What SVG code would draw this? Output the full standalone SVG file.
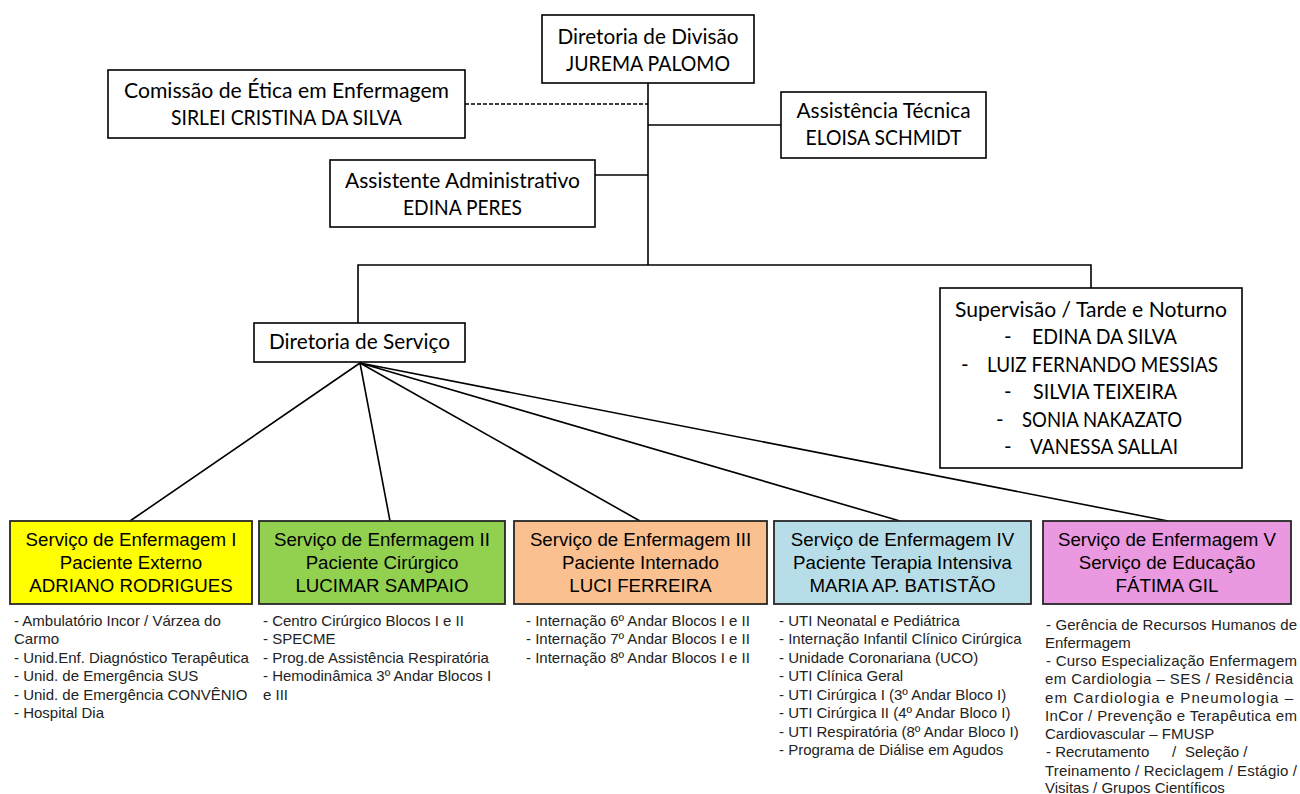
<svg xmlns="http://www.w3.org/2000/svg" width="1300" height="794" viewBox="0 0 1300 794">
<style>
.bx{fill:#fff;stroke:#000;stroke-width:1.6}
.sv{stroke:#262626;stroke-width:1.8}
.t{font-family:Lato,"Liberation Sans",sans-serif;font-size:20.5px;fill:#000;text-anchor:middle}
.ts{font-family:Lato,"Liberation Sans",sans-serif;font-size:20.5px;fill:#000}
.s{font-family:"Liberation Sans",Arial,sans-serif;font-size:18.7px;fill:#000;text-anchor:middle}
.l{font-family:"Liberation Sans",Arial,sans-serif;font-size:15px;fill:#222}
.c{fill:none;stroke:#000;stroke-width:1.6}
</style>
<rect width="1300" height="794" fill="#fff"/>
<g id="connectors">
<path class="c" d="M465,104 H648" stroke-dasharray="4,2"/>
<path class="c" d="M648,83 V265"/>
<path class="c" d="M648,125 H781"/>
<path class="c" d="M595,175 H648"/>
<path class="c" d="M358,323 V265 H1091 V288"/>
<path class="c" d="M360,363 L130,521 M360,363 L390,521 M360,363 L640,521 M360,363 L900,521 M360,363 L1168,521"/>
</g>
<g id="diretoria-divisao">
<rect class="bx" x="542" y="15" width="212" height="68"/>
<text class="t" x="648" y="44" textLength="181" lengthAdjust="spacingAndGlyphs">Diretoria de Divisão</text>
<text class="t" x="648" y="71" textLength="164" lengthAdjust="spacingAndGlyphs">JUREMA PALOMO</text>
</g>
<g id="comissao-etica">
<rect class="bx" x="108" y="70" width="357" height="68"/>
<text class="t" x="286.5" y="98" textLength="325" lengthAdjust="spacingAndGlyphs">Comissão de Ética em Enfermagem</text>
<text class="t" x="286.5" y="125" textLength="231" lengthAdjust="spacingAndGlyphs">SIRLEI CRISTINA DA SILVA</text>
</g>
<g id="assistencia-tecnica">
<rect class="bx" x="781" y="92" width="205" height="66"/>
<text class="t" x="883.5" y="118" textLength="174" lengthAdjust="spacingAndGlyphs">Assistência Técnica</text>
<text class="t" x="883.5" y="145" textLength="156" lengthAdjust="spacingAndGlyphs">ELOISA SCHMIDT</text>
</g>
<g id="assistente-administrativo">
<rect class="bx" x="330" y="160" width="265" height="67"/>
<text class="t" x="462.5" y="188" textLength="235" lengthAdjust="spacingAndGlyphs">Assistente Administrativo</text>
<text class="t" x="462.5" y="215" textLength="119" lengthAdjust="spacingAndGlyphs">EDINA PERES</text>
</g>
<g id="diretoria-servico">
<rect class="bx" x="254" y="323" width="211" height="39"/>
<text class="t" x="359.5" y="349" textLength="181" lengthAdjust="spacingAndGlyphs">Diretoria de Serviço</text>
</g>
<g id="supervisao">
<rect class="bx" x="940" y="288" width="302" height="180"/>
<text class="t" x="1091" y="317" textLength="272" lengthAdjust="spacingAndGlyphs">Supervisão / Tarde e Noturno</text>
<text class="ts" x="1004" y="344">-</text><text class="ts" x="1032" y="344" textLength="145" lengthAdjust="spacingAndGlyphs">EDINA DA SILVA</text>
<text class="ts" x="961" y="372">-</text><text class="ts" x="987" y="372" textLength="231" lengthAdjust="spacingAndGlyphs">LUIZ FERNANDO MESSIAS</text>
<text class="ts" x="1004" y="399">-</text><text class="ts" x="1033" y="399" textLength="144" lengthAdjust="spacingAndGlyphs">SILVIA TEIXEIRA</text>
<text class="ts" x="996" y="427">-</text><text class="ts" x="1022" y="427" textLength="160" lengthAdjust="spacingAndGlyphs">SONIA NAKAZATO</text>
<text class="ts" x="1004" y="454">-</text><text class="ts" x="1030" y="454" textLength="148" lengthAdjust="spacingAndGlyphs">VANESSA SALLAI</text>
</g>
<g id="servico-1">
<rect class="sv" x="10" y="521" width="242" height="83" fill="#FFFF00"/>
<text class="s" x="131" y="546">Serviço de Enfermagem I</text>
<text class="s" x="131" y="569">Paciente Externo</text>
<text class="s" x="131" y="592">ADRIANO  RODRIGUES</text>
<text class="l" x="14" y="626">- Ambulatório  Incor / Várzea do</text>
<text class="l" x="14" y="644">Carmo</text>
<text class="l" x="14" y="663">- Unid.Enf. Diagnóstico Terapêutica</text>
<text class="l" x="14" y="681">- Unid. de Emergência SUS</text>
<text class="l" x="14" y="700">- Unid. de Emergência CONVÊNIO</text>
<text class="l" x="14" y="718">- Hospital  Dia</text>
</g>
<g id="servico-2">
<rect class="sv" x="259" y="521" width="246" height="83" fill="#92D050"/>
<text class="s" x="382" y="546">Serviço de Enfermagem II</text>
<text class="s" x="382" y="569">Paciente Cirúrgico</text>
<text class="s" x="382" y="592">LUCIMAR SAMPAIO</text>
<text class="l" x="263" y="626">- Centro Cirúrgico Blocos I e II</text>
<text class="l" x="263" y="644">- SPECME</text>
<text class="l" x="263" y="663">- Prog.de Assistência Respiratória</text>
<text class="l" x="263" y="681">- Hemodinâmica  3º Andar Blocos I</text>
<text class="l" x="263" y="700">e III</text>
</g>
<g id="servico-3">
<rect class="sv" x="514" y="521" width="253" height="83" fill="#FAC090"/>
<text class="s" x="640.5" y="546">Serviço de Enfermagem III</text>
<text class="s" x="640.5" y="569">Paciente Internado</text>
<text class="s" x="640.5" y="592">LUCI FERREIRA</text>
<text class="l" x="526" y="626">- Internação 6º Andar Blocos I e II</text>
<text class="l" x="526" y="644">- Internação 7º Andar Blocos I e II</text>
<text class="l" x="526" y="663">- Internação 8º Andar Blocos I e II</text>
</g>
<g id="servico-4">
<rect class="sv" x="774" y="521" width="257" height="83" fill="#B7DDE8"/>
<text class="s" x="902.5" y="546">Serviço de Enfermagem IV</text>
<text class="s" x="902.5" y="569">Paciente Terapia Intensiva</text>
<text class="s" x="902.5" y="592">MARIA AP. BATISTÃO</text>
<text class="l" x="779" y="626">- UTI  Neonatal  e Pediátrica</text>
<text class="l" x="779" y="644">- Internação Infantil Clínico Cirúrgica</text>
<text class="l" x="779" y="663">- Unidade  Coronariana  (UCO)</text>
<text class="l" x="779" y="681">- UTI  Clínica Geral</text>
<text class="l" x="779" y="700">- UTI  Cirúrgica I  (3º Andar Bloco I)</text>
<text class="l" x="779" y="718">- UTI  Cirúrgica II (4º Andar Bloco I)</text>
<text class="l" x="779" y="737">- UTI  Respiratória  (8º Andar Bloco I)</text>
<text class="l" x="779" y="755">- Programa de Diálise em Agudos</text>
</g>
<g id="servico-5">
<rect class="sv" x="1043" y="521" width="248" height="83" fill="#EA98DF"/>
<text class="s" x="1167" y="546">Serviço de Enfermagem V</text>
<text class="s" x="1167" y="569">Serviço de Educação</text>
<text class="s" x="1167" y="592">FÁTIMA GIL</text>
<text class="l" x="1046" y="630" textLength="251" lengthAdjust="spacing">- Gerência de Recursos Humanos de</text>
<text class="l" x="1045" y="648">Enfermagem</text>
<text class="l" x="1046" y="666" textLength="251" lengthAdjust="spacing">- Curso Especialização Enfermagem</text>
<text class="l" x="1045" y="684" textLength="248" lengthAdjust="spacing">em Cardiologia – SES / Residência</text>
<text class="l" x="1045" y="703" textLength="248" lengthAdjust="spacing">em Cardiologia e Pneumologia –</text>
<text class="l" x="1045" y="721" textLength="252" lengthAdjust="spacing">InCor / Prevenção e Terapêutica em</text>
<text class="l" x="1045" y="739">Cardiovascular – FMUSP</text>
<text class="l" y="757"><tspan x="1046">- Recrutamento</tspan><tspan x="1172">/</tspan><tspan x="1185">Seleção /</tspan></text>
<text class="l" x="1045" y="776" textLength="252" lengthAdjust="spacing">Treinamento  / Reciclagem / Estágio /</text>
<text class="l" x="1045" y="793">Visitas / Grupos Científicos</text>
</g>
</svg>
